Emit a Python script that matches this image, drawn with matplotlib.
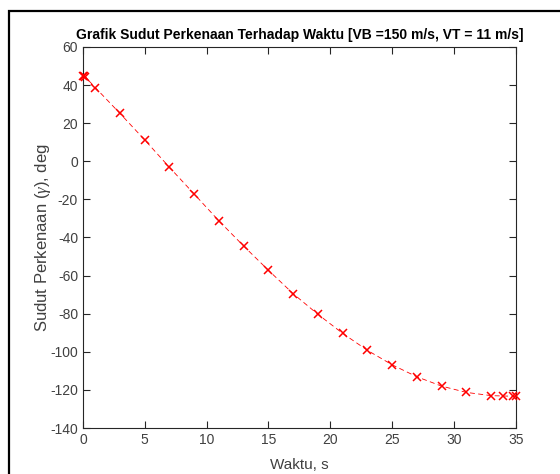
import matplotlib.pyplot as plt
from matplotlib.patches import Rectangle

plt.rcParams["font.family"] = ["Liberation Sans", "DejaVu Sans"]
plt.rcParams["mathtext.fontset"] = "custom"
plt.rcParams["mathtext.it"] = "Liberation Serif:italic"
plt.rcParams["axes.unicode_minus"] = False

# data
waktu = [0, 0.1, 0.2, 1, 3, 5, 7, 9, 11, 13, 15, 17, 19, 21, 23, 25, 27, 29, 31, 33, 34, 34.8, 35]
sudut = [45, 44.6, 44.2, 38.7, 25.1, 11.2, -3.2, -17.2, -31.3, -44.5, -57.2, -69.5, -80.3, -90.3,
         -99.2, -106.8, -113.1, -118.0, -121.3, -123.0, -123.2, -123.3, -123.4]

xticks = [0, 5, 10, 15, 20, 25, 30, 35]
yticks = [-140, -120, -100, -80, -60, -40, -20, 0, 20, 40, 60]

fig = plt.figure(figsize=(5.6, 4.74), dpi=100)
ax = fig.add_axes([0.148, 0.097, 0.773, 0.804])

ax.plot(waktu, sudut, color="red", linestyle="--", dashes=(6, 4), linewidth=0.6,
        marker="x", markersize=5.5, markeredgewidth=1.1, clip_on=False, zorder=3)

ax.set_xlim(0, 35)
ax.set_ylim(-140, 60)
ax.set_xticks(xticks)
ax.set_yticks(yticks)
ax.tick_params(direction="in", length=5, width=0.8, top=True, right=True,
               labelsize=10, labelcolor="#404040", color="#262626")
for s in ax.spines.values():
    s.set_linewidth(0.8)
    s.set_color("#262626")
    s.set_zorder(2)

ax.set_title("Grafik Sudut Perkenaan Terhadap Waktu [VB =150 m/s, VT = 11 m/s]",
             fontsize=10, fontweight="bold", pad=6)
ax.set_xlabel("Waktu, s", fontsize=11, color="#404040", labelpad=8)
ax.set_ylabel(r"Sudut Perkenaan ($\gamma$), deg", fontsize=12, color="#404040", labelpad=-2)

# outer frame around the figure
fig.patches.append(Rectangle((9 / 560, -0.1), 1.2, 1.1 - 11 / 474,
                             transform=fig.transFigure, fill=False,
                             edgecolor="black", linewidth=1.6, clip_on=False))

fig.savefig("out.png", dpi=100)
